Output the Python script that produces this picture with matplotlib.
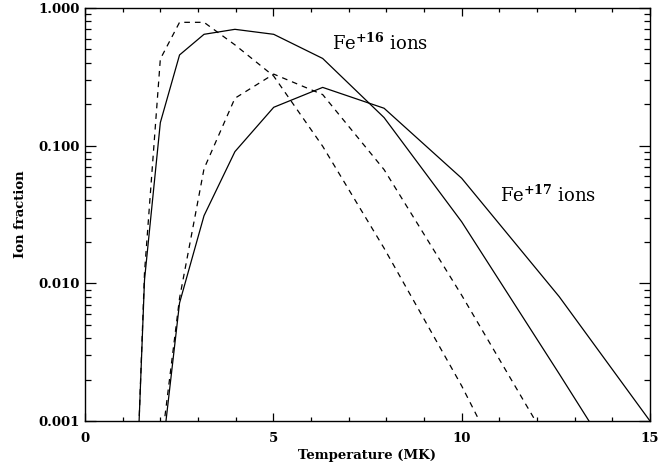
import matplotlib
matplotlib.use("Agg")
import matplotlib.pyplot as plt
from matplotlib.ticker import FixedLocator, MultipleLocator, FuncFormatter, LogLocator, NullFormatter

# Temperature grid (MK), log T = 6.1 ... 7.2
temperature = [1.26, 1.58, 2.00, 2.51, 3.16, 3.98, 5.01, 6.31, 7.94, 10.0, 12.59, 15.85]

# Fe+16 (solid) and Fe+17 (solid)
fe16_solid = [5.5e-5, 0.0106, 0.147, 0.456, 0.644, 0.70, 0.644, 0.43, 0.160, 0.028, 0.0022, 8.5e-5]
fe17_solid = [1e-6, 2e-5, 0.00044, 0.0072, 0.031, 0.0905, 0.19, 0.265, 0.187, 0.058, 0.008, 0.00048]

# Dashed counterparts
fe16_dashed = [4.8e-5, 0.012, 0.426, 0.787, 0.787, 0.54, 0.32, 0.099, 0.018, 0.0018, 7.2e-5, 1e-6]
fe17_dashed = [1e-6, 2e-5, 0.00058, 0.0078, 0.068, 0.221, 0.331, 0.235, 0.067, 0.0082, 0.00051, 1e-5]

x_ticks = [0, 5, 10, 15]
y_ticks = [0.001, 0.01, 0.1, 1.0]

plt.rcParams['font.family'] = ['DejaVu Serif']
plt.rcParams['mathtext.fontset'] = 'dejavuserif'

fig = plt.figure(figsize=(6.7, 4.68), dpi=100)
ax = fig.add_axes([85/670, 1-421/468, (650-85)/670, (421-8)/468])

lw = 0.9
ax.plot(temperature, fe16_solid, color='black', lw=lw)
ax.plot(temperature, fe17_solid, color='black', lw=lw)
ax.plot(temperature, fe16_dashed, color='black', lw=lw, dashes=(4.5, 4))
ax.plot(temperature, fe17_dashed, color='black', lw=lw, dashes=(4.5, 4))

ax.set_yscale('log')
ax.set_xlim(0, 15)
ax.set_ylim(0.001, 1.0)

ax.xaxis.set_major_locator(FixedLocator(x_ticks))
ax.xaxis.set_minor_locator(MultipleLocator(1))
ax.yaxis.set_major_locator(FixedLocator(y_ticks))
ax.yaxis.set_minor_locator(LogLocator(base=10, subs=range(2, 10)))
ax.yaxis.set_minor_formatter(NullFormatter())
ax.yaxis.set_major_formatter(FuncFormatter(lambda v, p: f"{v:.3f}"))
ax.xaxis.set_major_formatter(FuncFormatter(lambda v, p: f"{int(v)}"))

ax.tick_params(which='both', direction='in', top=True, right=True, width=0.9, color='black')
ax.tick_params(axis='x', which='major', length=6, pad=8)
ax.tick_params(axis='x', which='minor', length=3)
ax.tick_params(axis='y', which='major', length=8, pad=4)
ax.tick_params(axis='y', which='minor', length=4)
for lab in ax.get_xticklabels() + ax.get_yticklabels():
    lab.set_fontweight('bold')
    lab.set_fontsize(9.5)

for s in ax.spines.values():
    s.set_linewidth(1.0)

ax.set_xlabel('Temperature (MK)', fontsize=9.5, fontweight='bold', labelpad=3)
ax.set_ylabel('Ion fraction', fontsize=9.5, fontweight='bold', labelpad=8)

ax.text(6.56, 0.495, r'Fe$^{\mathbf{+16}}$ ions', fontsize=13, ha='left', va='baseline')
ax.text(11.02, 0.039, r'Fe$^{\mathbf{+17}}$ ions', fontsize=13, ha='left', va='baseline')

fig.savefig('out.png', dpi=100)
